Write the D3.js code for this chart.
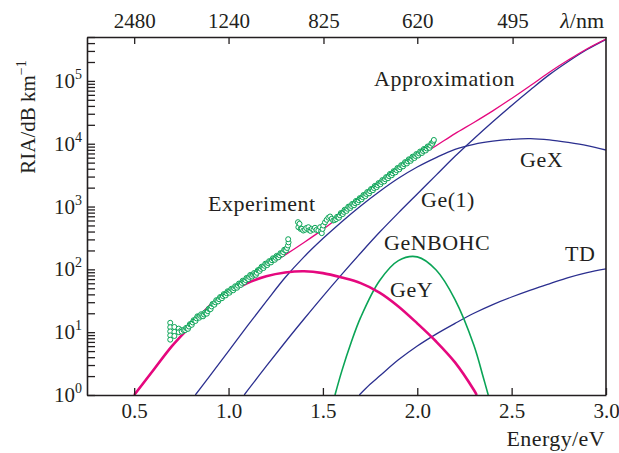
<!DOCTYPE html>
<html><head><meta charset="utf-8">
<script src="https://cdn.jsdelivr.net/npm/d3@7"></script>
<style>
body{margin:0;background:#fff}
svg{display:block}
text{font-family:"Liberation Serif","Times New Roman",serif;fill:#231f20}
</style>
</head><body>
<svg id="chart" width="619" height="453"></svg>
<script>
// ---------- data (energy in eV, RIA in dB/km) ----------
const energyTicks = [0.5, 1.0, 1.5, 2.0, 2.5, 3.0];
const energyTickLabels = ["0.5", "1.0", "1.5", "2.0", "2.5", "3.0"];
const wavelengthTicks = [2480, 1240, 825, 620, 495];
const decades = [0, 1, 2, 3, 4, 5];

const approximation = [[0.5,1],[0.6,2.45],[0.7,6.0],[0.8,12.6],[0.9,27],[1.0,47],[1.1,74],[1.2,111],[1.3,170],[1.4,268],[1.5,433],[1.6,735],[1.7,1284],[1.8,2238],[1.9,3779],[2.0,6029],[2.1,9302],[2.2,14490],[2.3,21820],[2.4,33380],[2.5,52520],[2.6,84510],[2.7,137400],[2.8,214700],[2.9,325700],[3.0,465100]];
const geY = [[0.5,1],[0.6,2.45],[0.7,6.0],[0.8,12.6],[0.9,25.1],[1.0,41.7],[1.1,60.3],[1.2,77.6],[1.3,89.1],[1.4,93.3],[1.5,87.1],[1.6,74.1],[1.7,60.3],[1.8,42.7],[1.9,25.7],[2.0,13.8],[2.1,7.1],[2.2,3.3],[2.3,1.2],[2.315,1]];
const geX = [[0.824,1],[0.9,2.0],[1.0,5.0],[1.1,12.6],[1.2,30.9],[1.3,74.1],[1.4,158],[1.5,309],[1.6,575],[1.7,1023],[1.8,1738],[1.9,2818],[2.0,4266],[2.1,6026],[2.2,8128],[2.3,9772],[2.4,10960],[2.5,11750],[2.6,12020],[2.7,11480],[2.8,10470],[2.9,9333],[3.0,7943]];
const ge1 = [[1.083,1],[1.1,1.17],[1.2,2.88],[1.3,6.92],[1.4,16.2],[1.5,37.2],[1.6,83.2],[1.7,182],[1.8,389],[1.9,794],[2.0,1585],[2.1,3162],[2.2,6310],[2.3,12020],[2.4,22390],[2.5,40740],[2.6,72440],[2.7,125900],[2.8,204200],[2.9,316200],[3.0,457100]];
const geNBOHC = [[1.564,1],[1.6,2.4],[1.65,6.9],[1.7,17.2],[1.8,66],[1.9,138],[2.0,158],[2.1,97.7],[2.2,33.1],[2.3,6.2],[2.35,1.9],[2.376,1]];
const td = [[1.693,1],[1.75,1.48],[1.8,2.0],[1.9,3.63],[2.0,6.03],[2.1,9.33],[2.2,13.8],[2.3,20.0],[2.4,27.5],[2.5,36.3],[2.6,46.8],[2.7,58.9],[2.8,74.1],[2.9,89.1],[3.0,102]];

const experimentA = [[0.691,14.1],[0.691,12.0],[0.691,10.3],[0.691,8.9],[0.691,7.6],
 [0.713,12.1],[0.713,10.1],[0.713,8.7],[0.736,11.4],[0.736,10.0],[0.750,10.8],[0.752,10.2],[0.762,10.8],
 [0.77,10.8],[0.775,11.7],[0.78,11.5],[0.785,11.3],[0.79,12.3],[0.795,13.4],[0.80,13.3],[0.805,13.1],[0.81,14.3],[0.815,15.5],
 [0.82,15.3],[0.825,15.1],[0.83,16.6],[0.835,17.9],[0.84,17.6],[0.845,17.0],[0.85,18.2],[0.855,19.3],[0.86,18.6],[0.865,17.9],
 [0.87,19.1],[0.875,20.5],[0.88,20.0],[0.885,19.7],[0.89,21.6],[0.895,23.6],[0.90,23.4],[0.905,23.3],[0.91,25.7],[0.915,28.1],
 [0.92,27.9],[0.925,27.4],[0.93,29.9],[0.935,32.3],[0.94,31.6],[0.945,30.9],[0.95,33.5],[0.955,36.2],[0.96,35.5],[0.965,34.7],
 [0.97,37.6],[0.975,40.4],[0.98,39.4],[0.985,38.5],[0.99,41.7],[0.995,44.8],[1.00,43.7],[1.005,42.5],[1.01,45.7],[1.015,49.1],
 [1.02,47.9],[1.025,46.5],[1.03,50.1],[1.035,53.8],[1.04,52.5],[1.045,51.0],[1.05,55.0],[1.055,59.4],[1.06,58.2],[1.065,56.6],
 [1.07,61.0],[1.075,65.9],[1.08,64.6],[1.085,62.8],[1.09,67.6],[1.095,73.0],[1.10,71.6],[1.105,70.0],[1.11,75.9],[1.115,81.5],
 [1.12,79.4],[1.125,76.8],[1.13,82.2],[1.135,87.3],[1.14,84.1],[1.145,81.8],[1.15,88.1],[1.155,96.9],[1.16,96.6],[1.165,94.4],
 [1.17,102],[1.175,110],[1.18,108],[1.185,105],[1.19,114],[1.195,123],[1.20,120],[1.205,117],[1.21,126],[1.215,135],
 [1.22,132],[1.225,129],[1.23,140],[1.235,150],[1.24,146],[1.245,142],[1.25,153],[1.255,164],[1.26,160],[1.265,156],
 [1.27,168],[1.275,181],[1.28,178],[1.285,174],[1.29,188],[1.295,205],[1.30,202],[1.305,200],[1.31,219],[1.315,240],[1.318,269],[1.316,302]];
const experimentB = [[1.368,564],[1.370,469],[1.376,531],[1.382,440],[1.388,443],[1.396,415],[1.405,427],[1.412,455],[1.423,469],
 [1.428,420],[1.434,410],[1.441,443],[1.450,430],[1.458,459],[1.466,425],[1.476,416],[1.485,469],[1.490,400],[1.494,377],
 [1.498,440],[1.502,499],[1.511,560],[1.520,615],[1.529,665],[1.538,694],[1.547,640],[1.555,600],[1.562,610],
 [1.57,631],[1.575,686],[1.58,676],[1.585,665],[1.59,724],[1.595,787],[1.60,776],[1.605,759],[1.61,822],[1.615,888],[1.62,871],
 [1.625,852],[1.63,923],[1.635,997],[1.64,977],[1.645,950],[1.65,1023],[1.655,1100],[1.66,1072],[1.665,1048],[1.67,1135],
 [1.675,1227],[1.68,1202],[1.685,1169],[1.69,1259],[1.695,1361],[1.70,1334],[1.705,1304],[1.71,1413],[1.715,1527],[1.72,1496],
 [1.725,1463],[1.73,1585],[1.735,1703],[1.74,1660],[1.745,1623],[1.75,1758],[1.755,1900],[1.76,1862],[1.765,1820],[1.77,1972],
 [1.775,2131],[1.78,2089],[1.785,2031],[1.79,2188],[1.795,2364],[1.80,2317],[1.805,2266],[1.81,2455],[1.815,2638],[1.82,2570],
 [1.825,2513],[1.83,2723],[1.835,2943],[1.84,2884],[1.845,2820],[1.85,3055],[1.855,3302],[1.86,3236],[1.865,3145],[1.87,3388],
 [1.875,3661],[1.88,3589],[1.885,3509],[1.89,3802],[1.895,4109],[1.90,4027],[1.905,3915],[1.91,4217],[1.915,4557],[1.92,4467],
 [1.925,4368],[1.93,4732],[1.935,5084],[1.94,4955],[1.945,4845],[1.95,5248],[1.955,5639],[1.96,5495],[1.965,5342],[1.97,5754],
 [1.975,6218],[1.98,6095],[1.985,5925],[1.99,6383],[1.995,6858],[2.00,6683],[2.005,6497],[2.01,6998],[2.015,7519],[2.02,7328],
 [2.025,7124],[2.03,7674],[2.035,8246],[2.04,8035],[2.045,7811],[2.05,8414],[2.055,9040],[2.06,8810],[2.065,8615],[2.07,9333],
 [2.075,10140],[2.08,10000],[2.085,10840],[2.088,11480]];

const labels = [
  {text:"Approximation", x:374, y:86},
  {text:"GeX", x:520, y:167},
  {text:"Ge(1)", x:421, y:207},
  {text:"Experiment", x:208, y:211},
  {text:"GeNBOHC", x:384, y:250},
  {text:"TD", x:565, y:261},
  {text:"GeY", x:390, y:297}
];

// ---------- layout ----------
const PINK = "#e5087e", BLUE = "#2b2f8f", GREEN = "#0aa456", INK = "#231f20";
const svg = d3.select("#chart");
const x = d3.scaleLinear().domain([0.25, 3.0]).range([87, 606]);
const y = d3.scaleLog().domain([1, 5e5]).range([395, 37]);

svg.append("defs").append("clipPath").attr("id","clip")
  .append("rect").attr("x",87).attr("y",37).attr("width",519).attr("height",358);

const plot = svg.append("g").attr("clip-path","url(#clip)");
const line = d3.line().x(d => x(d[0])).y(d => y(d[1])).curve(d3.curveCatmullRom.alpha(0.5));

function curve(data, color, width){
  plot.append("path").attr("d", line(data)).attr("fill","none")
    .attr("stroke", color).attr("stroke-width", width).attr("stroke-linejoin","round");
}
curve(geX, BLUE, 1.3);
curve(ge1, BLUE, 1.3);
curve(td, BLUE, 1.3);
curve(geNBOHC, GREEN, 1.6);
curve(geY, PINK, 2.6);
curve(approximation, PINK, 1.3);

plot.append("g").selectAll("circle").data(experimentA.concat(experimentB)).join("circle")
  .attr("cx", d => x(d[0])).attr("cy", d => y(d[1])).attr("r", 2.5)
  .attr("fill","#fff").attr("stroke", GREEN).attr("stroke-width", 1);

// ---------- axes ----------
const fs = 21;
const axBottom = svg.append("g").attr("transform","translate(0,395)")
  .call(d3.axisBottom(x).tickValues(energyTicks).tickFormat((d,i)=>energyTickLabels[i])
        .tickSizeInner(-7).tickSizeOuter(0).tickPadding(8));
const axTop = svg.append("g").attr("transform","translate(0,37)")
  .call(d3.axisTop(x).tickValues(wavelengthTicks.map(l => 1240/l)).tickFormat((d,i)=>wavelengthTicks[i])
        .tickSizeInner(-7).tickSizeOuter(0).tickPadding(9));
const leftTicks = [];
decades.forEach(p => { for (let m = 1; m <= 9; m++){ const v = m*Math.pow(10,p); if (v <= 5e5) leftTicks.push(v); } });
const axLeft = svg.append("g").attr("transform","translate(87,0)")
  .call(d3.axisLeft(y).tickValues(leftTicks).tickFormat("").tickSizeInner(-8).tickSizeOuter(0));

[axBottom, axTop, axLeft].forEach(g => {
  g.select(".domain").attr("stroke", INK).attr("stroke-width", 1.6);
  g.selectAll(".tick line").attr("stroke", INK).attr("stroke-width", 1.3);
  g.selectAll(".tick text").attr("font-size", fs).attr("font-family","Liberation Serif, serif").attr("fill", INK);
});
svg.append("line").attr("x1",606).attr("x2",606).attr("y1",37).attr("y2",395)
  .attr("stroke", INK).attr("stroke-width",1.6);

// left decade labels with superscripts
decades.forEach(p => {
  const t = svg.append("text").attr("x", 82).attr("y", y(Math.pow(10,p)) + 7)
    .attr("text-anchor","end").attr("font-size", fs);
  t.append("tspan").text("10");
  t.append("tspan").attr("dy",-9).attr("font-size",14).text(String(p));
});

// axis titles
const yt = svg.append("text").attr("transform","translate(35,117) rotate(-90)")
  .attr("text-anchor","middle").attr("font-size", fs);
yt.append("tspan").text("RIA/dB km");
yt.append("tspan").attr("dy",-9).attr("font-size",14).text("\u22121");

svg.append("text").attr("x",605).attr("y",446).attr("text-anchor","end")
  .attr("font-size", 22).attr("letter-spacing", 0.4).text("Energy/eV");
const lt = svg.append("text").attr("x",604).attr("y",28).attr("text-anchor","end").attr("font-size", 22);
lt.append("tspan").attr("font-style","italic").text("\u03bb");
lt.append("tspan").text("/nm");

// curve labels
svg.append("g").selectAll("text").data(labels).join("text")
  .attr("x", d => d.x).attr("y", d => d.y).attr("font-size", 22).attr("letter-spacing", 0.5).text(d => d.text);
</script>
</body></html>
